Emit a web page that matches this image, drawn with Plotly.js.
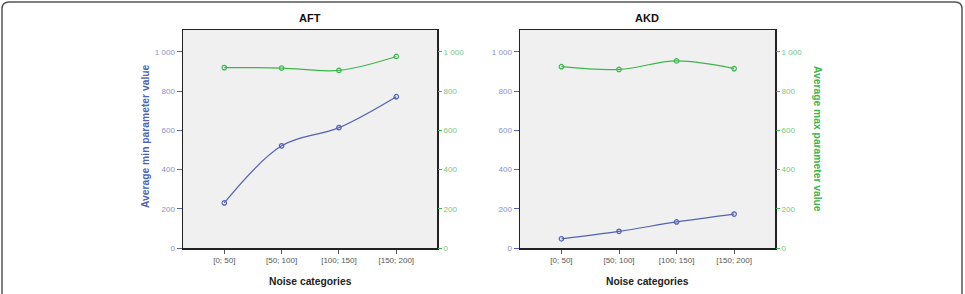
<!DOCTYPE html>
<html>
<head>
<meta charset="utf-8">
<script src="https://cdn.plot.ly/plotly-3.0.1.min.js"></script>
<style>html,body{margin:0;padding:0;background:#fff;}#chart{width:965px;height:294px;}</style>
</head>
<body>
<div id="chart"></div>
<script>
const categories = ["[0; 50]", "[50; 100]", "[100; 150]", "[150; 200]"];
const aftMin = [230, 521, 614, 772];
const aftMax = [920, 918, 906, 977];
const akdMin = [47, 85, 133, 173];
const akdMax = [925, 911, 954, 915];
const panelTitles = ["AFT", "AKD"];

const W = 965, H = 294;
const px = x => x / W;
const py = y => 1 - y / H;

const blue = "#5262b2", green = "#3fb54e";
const blueLbl = "#8a90cc", greenLbl = "#74c97f";

function lineTrace(y, color, xa, ya) {
  return {
    x: categories, y: y, xaxis: xa, yaxis: ya, type: "scatter", mode: "lines+markers",
    line: {color: color, width: 1.2, shape: "spline", smoothing: 1},
    marker: {symbol: "circle-open", size: 4.5, color: color, line: {width: 1.2, color: color}},
    hoverinfo: "skip", cliponaxis: false
  };
}

const data = [
  lineTrace(aftMin, blue, "x", "y"),
  lineTrace(aftMax, green, "x", "y2"),
  lineTrace(akdMin, blue, "x2", "y3"),
  lineTrace(akdMax, green, "x2", "y4")
];

const yDom = [py(248), py(30)];
const yRange = [0, 1112];
const xRange = [-0.72, 3.71];
const tickFont = {family: "Liberation Sans, Arial, sans-serif", size: 8};

function xAxis(dom, anchor) {
  return {
    domain: dom, anchor: anchor, range: xRange, type: "category",
    showline: true, mirror: true, linecolor: "#222", linewidth: 1.5,
    ticks: "outside", ticklen: 4, tickcolor: "#555", tickwidth: 1,
    tickfont: Object.assign({color: "#555"}, tickFont),
    showgrid: false, zeroline: false, fixedrange: true
  };
}
function yLeft(anchor) {
  return {
    domain: yDom, anchor: anchor, range: yRange,
    showline: true, mirror: true, linecolor: "#222", linewidth: 1.5,
    ticks: "outside", ticklen: 5, tickcolor: blue, tickwidth: 1,
    tickvals: [0, 200, 400, 600, 800, 1000], tickformat: ",d",
    tickfont: Object.assign({color: blueLbl}, tickFont),
    showgrid: false, zeroline: false, fixedrange: true
  };
}
function yRight(anchor, over) {
  return {
    domain: yDom, anchor: anchor, overlaying: over, side: "right", range: yRange,
    showline: false,
    ticks: "outside", ticklen: 4, tickcolor: green, tickwidth: 1,
    tickvals: [0, 200, 400, 600, 800, 1000], tickformat: ",d",
    tickfont: Object.assign({color: greenLbl}, tickFont),
    showgrid: false, zeroline: false, fixedrange: true
  };
}

const r = 7;
const x0 = 2, x1 = 962, y0 = 2, y1 = 320;
const border = `M ${px(x0)} ${py(y1)} L ${px(x0)} ${py(y0 + r)} Q ${px(x0)} ${py(y0)} ${px(x0 + r)} ${py(y0)} L ${px(x1 - r)} ${py(y0)} Q ${px(x1)} ${py(y0)} ${px(x1)} ${py(y0 + r)} L ${px(x1)} ${py(y1)}`;

const titleFont = {family: "Liberation Sans, Arial, sans-serif", size: 11, color: "#111"};
const axTitleFont = {family: "Liberation Sans, Arial, sans-serif", size: 10.3, color: "#222"};

const layout = {
  width: W, height: H,
  margin: {l: 0, r: 0, t: 0, b: 0},
  paper_bgcolor: "#ffffff",
  plot_bgcolor: "#f0f0f0",
  showlegend: false,
  separators: ". ",
  xaxis: xAxis([px(183), px(437)], "y"),
  yaxis: yLeft("x"),
  yaxis2: yRight("x", "y"),
  xaxis2: xAxis([px(520), px(775)], "y3"),
  yaxis3: yLeft("x2"),
  yaxis4: yRight("x2", "y3"),
  shapes: [
    {type: "path", xref: "paper", yref: "paper", path: border, line: {color: "#555", width: 1.5}}
  ],
  annotations: [
    {text: "<b>" + panelTitles[0] + "</b>", xref: "paper", yref: "paper", x: px(310), y: py(18), showarrow: false, font: titleFont, xanchor: "center", yanchor: "middle"},
    {text: "<b>" + panelTitles[1] + "</b>", xref: "paper", yref: "paper", x: px(647), y: py(18), showarrow: false, font: titleFont, xanchor: "center", yanchor: "middle"},
    {text: "<b>Noise categories</b>", xref: "paper", yref: "paper", x: px(310), y: py(281), showarrow: false, font: axTitleFont, xanchor: "center", yanchor: "middle"},
    {text: "<b>Noise categories</b>", xref: "paper", yref: "paper", x: px(647), y: py(281), showarrow: false, font: axTitleFont, xanchor: "center", yanchor: "middle"},
    {text: "<b>Average min parameter value</b>", xref: "paper", yref: "paper", x: px(145), y: py(136), showarrow: false, textangle: -90, font: Object.assign({}, axTitleFont, {color: blue}), xanchor: "center", yanchor: "middle"},
    {text: "<b>Average max parameter value</b>", xref: "paper", yref: "paper", x: px(818), y: py(139), showarrow: false, textangle: 90, font: Object.assign({}, axTitleFont, {color: green}), xanchor: "center", yanchor: "middle"}
  ]
};

Plotly.newPlot("chart", data, layout, {displayModeBar: false, staticPlot: true});
</script>
</body>
</html>
